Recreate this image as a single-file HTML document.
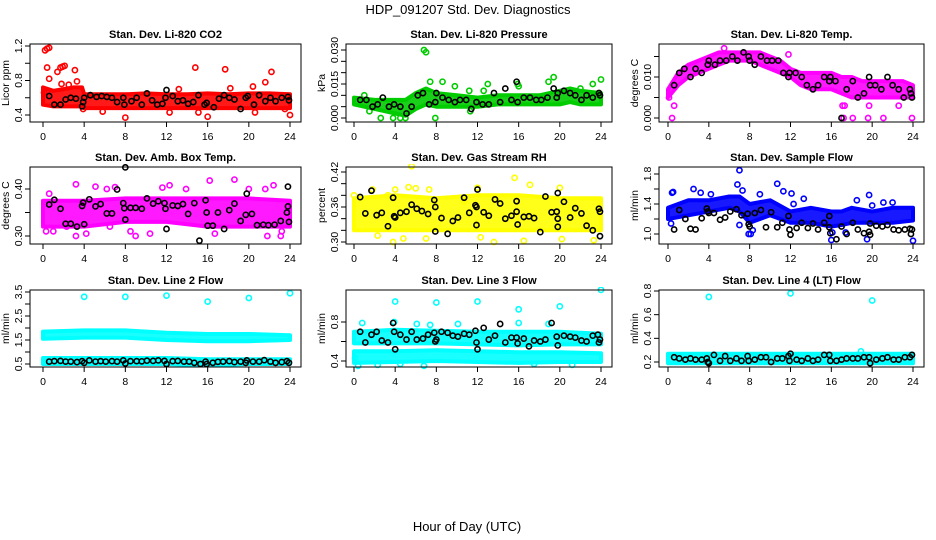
<!DOCTYPE html>
<html><head><meta charset="utf-8"><style>
html,body{margin:0;padding:0;background:#fff;}
svg{display:block;font-family:"Liberation Sans",sans-serif;}
</style></head><body>
<svg id="chart" width="936" height="540" viewBox="0 0 936 540" xmlns="http://www.w3.org/2000/svg">
<rect width="936" height="540" fill="#fff"/>
<text x="468" y="14" text-anchor="middle" font-size="13">HDP_091207  Std. Dev. Diagnostics</text>
<text x="467" y="531" text-anchor="middle" font-size="13">Hour of Day (UTC)</text>
<g id="panels"></g>
</svg>
<script>
// ---------- data ----------
const hourTicks = [0,4,8,12,16,20,24];

const co2BandX = [0,1,2,3,3.8,4,6,8,10,12,14,16,18,20,22,24];
const co2Lo = [0.52,0.5,0.5,0.5,0.5,0.48,0.48,0.48,0.48,0.48,0.48,0.48,0.48,0.48,0.48,0.48];
const co2Hi = [0.72,0.68,0.7,0.72,0.72,0.64,0.64,0.64,0.65,0.64,0.64,0.65,0.64,0.65,0.65,0.64];
const co2Pts = [[0.2,1.15],[0.4,1.17],[0.6,1.18],[0.4,0.95],[1.4,0.9],[1.7,0.95],[1.9,0.96],[2.1,0.97],[3.1,0.92],[0.6,0.82],[1.8,0.76],[3.3,0.79],[2.5,0.75],[8,0.37],[14.8,0.95],[17.7,0.93],[22.2,0.9],[21.6,0.78],[16,0.38],[12.3,0.43],[15.1,0.43],[20.6,0.43],[23.5,0.47],[24,0.4],[18.2,0.71],[20.4,0.73],[5.8,0.44],[13.2,0.7],[0.1,0.66],[3.9,0.47]];
const co2Blk = [[0.6,0.62],[1.1,0.52],[1.7,0.52],[2.2,0.58],[2.7,0.6],[3.2,0.59],[3.8,0.5],[3.9,0.55],[4,0.6],[4.6,0.63],[5.2,0.61],[5.7,0.62],[6.2,0.61],[6.7,0.6],[7.2,0.55],[7.8,0.6],[7.9,0.52],[8.6,0.56],[9.1,0.6],[9.6,0.52],[10.1,0.65],[10.6,0.57],[11.1,0.52],[11.6,0.53],[11.9,0.6],[12,0.69],[12.6,0.62],[13.1,0.56],[13.6,0.57],[14.1,0.53],[14.6,0.55],[15.1,0.63],[15.7,0.52],[15.9,0.54],[16.6,0.49],[17.1,0.59],[17.6,0.63],[18.1,0.6],[18.6,0.58],[19.2,0.47],[19.7,0.6],[19.9,0.62],[20.5,0.52],[21,0.63],[21.6,0.56],[22.1,0.6],[22.6,0.56],[23.2,0.6],[23.8,0.61],[23.9,0.57]];

const presBandX = [0,2,4,5,6,7,8,10,12,14,16,18,20,21,22,24];
const presLo = [0.006,0.004,0.002,0.001,0.004,0.006,0.005,0.005,0.005,0.006,0.006,0.006,0.006,0.007,0.006,0.006];
const presHi = [0.009,0.008,0.008,0.008,0.011,0.013,0.011,0.01,0.009,0.01,0.01,0.01,0.012,0.013,0.012,0.011];
const presPts = [[6.8,0.03],[7,0.029],[8.6,0.016],[7.4,0.016],[9.8,0.014],[13,0.015],[15.9,0.015],[19.4,0.018],[18.9,0.016],[23.2,0.015],[24,0.017],[2.6,0],[7.9,0],[5,0],[11.3,0.003],[1.5,0.003],[3.8,0],[11.2,0.012],[12.6,0.012],[1,0.01],[4.5,0],[22,0.013],[16,0.014]];
const presBlk = [[0.6,0.008],[1.2,0.008],[1.8,0.005],[2.3,0.006],[2.8,0.009],[3.4,0.005],[3.9,0.006],[4.5,0.005],[5.1,0.002],[5.6,0.005],[6.2,0.01],[6.7,0.011],[7.3,0.006],[7.9,0.007],[8,0.011],[8.6,0.009],[9.2,0.008],[9.8,0.007],[10.3,0.008],[10.9,0.008],[11.4,0.004],[11.9,0.007],[12.5,0.006],[13.1,0.006],[13.6,0.011],[14.2,0.007],[14.7,0.013],[15.3,0.008],[15.8,0.016],[15.9,0.007],[16.5,0.009],[17.1,0.009],[17.7,0.008],[18.2,0.008],[18.8,0.009],[19.4,0.013],[19.7,0.009],[19.8,0.011],[20.4,0.012],[21,0.011],[21.5,0.01],[22.1,0.008],[22.6,0.01],[23.2,0.009],[23.8,0.011],[23.9,0.01]];

const tempBandX = [0,1,2,3,4,5,6,7,8,9,10,11,12,13,14,15,16,17,18,19,20,21,22,23,24];
const tempLo = [0.005,0.008,0.01,0.011,0.012,0.013,0.014,0.014,0.014,0.013,0.012,0.011,0.01,0.008,0.007,0.007,0.007,0.006,0.005,0.005,0.005,0.005,0.005,0.005,0.005];
const tempHi = [0.007,0.011,0.013,0.014,0.015,0.016,0.016,0.016,0.016,0.016,0.015,0.014,0.012,0.011,0.011,0.011,0.011,0.01,0.01,0.009,0.009,0.009,0.009,0.009,0.008];
const tempPts = [[0.4,0],[0.6,0.003],[5.5,0.017],[11.8,0.0155],[17.1,0.003],[17.3,0.003],[18.1,0],[19.6,0],[21.1,0],[23.9,0],[17.2,0],[22.6,0.003],[19.7,0.003],[0.1,0.005]];
const tempBlk = [[0.6,0.008],[1.1,0.011],[1.6,0.012],[2.2,0.01],[2.7,0.012],[3.3,0.011],[3.9,0.013],[4,0.014],[4.6,0.013],[5.1,0.014],[5.7,0.014],[6.3,0.015],[6.8,0.014],[7.4,0.016],[7.9,0.015],[8,0.014],[8.5,0.013],[9.1,0.015],[9.7,0.014],[10.2,0.014],[10.8,0.014],[11.3,0.011],[11.8,0.01],[11.9,0.011],[12.5,0.011],[13.1,0.01],[13.6,0.008],[14.2,0.007],[14.7,0.008],[15.3,0.01],[15.8,0.009],[15.9,0.01],[16.4,0.009],[17,0],[17.5,0.007],[18.1,0.009],[18.6,0.005],[19.2,0.006],[19.7,0.01],[19.8,0.008],[20.3,0.008],[20.9,0.007],[21.5,0.01],[22,0.008],[22.6,0.007],[23.1,0.005],[23.7,0.007],[23.8,0.006],[23.9,0.005]];

const ambBandX = [0,4,8,12,16,20,24];
const ambLo = [0.32,0.32,0.33,0.33,0.32,0.32,0.32];
const ambHi = [0.375,0.375,0.38,0.38,0.38,0.38,0.375];
const ambPts = [[0.6,0.39],[3.2,0.41],[5.1,0.405],[6.2,0.4],[7,0.404],[11.6,0.403],[12.3,0.408],[13.9,0.4],[16.2,0.418],[18.6,0.42],[20,0.4],[21.6,0.4],[22.4,0.408],[0.3,0.31],[1,0.31],[3.2,0.3],[4.2,0.305],[9,0.3],[10.4,0.305],[8.5,0.31],[16.7,0.305],[21.8,0.3],[23.1,0.3],[23.2,0.31],[2.3,0.32],[6.5,0.32]];
const ambBlk = [[0.6,0.367],[1.1,0.377],[1.7,0.358],[2.2,0.326],[2.7,0.326],[3.3,0.32],[3.8,0.364],[3.9,0.371],[4,0.325],[4.5,0.378],[5.1,0.363],[5.6,0.368],[6.2,0.348],[6.7,0.348],[7.2,0.399],[7.8,0.37],[7.9,0.359],[8,0.335],[8,0.446],[8.5,0.36],[9,0.36],[9.6,0.358],[10.1,0.38],[10.7,0.369],[11.2,0.374],[11.8,0.37],[11.9,0.358],[12,0.315],[12.6,0.365],[13.1,0.364],[13.6,0.368],[14.1,0.347],[14.7,0.37],[15.2,0.29],[15.8,0.376],[15.9,0.35],[16,0.322],[16.5,0.322],[17,0.35],[17.6,0.315],[18.1,0.355],[18.6,0.369],[19.2,0.332],[19.7,0.345],[19.8,0.39],[20.3,0.347],[20.8,0.323],[21.4,0.324],[21.9,0.323],[22.5,0.324],[23.1,0.332],[23.7,0.35],[23.8,0.405],[23.9,0.33],[23.8,0.363]];

const rhBandX = [0,4,8,12,16,20,24];
const rhLo = [0.32,0.32,0.32,0.32,0.32,0.32,0.32];
const rhHi = [0.375,0.38,0.375,0.38,0.38,0.375,0.375];
const rhPts = [[5.6,0.43],[5.3,0.394],[6,0.392],[15.6,0.41],[17.1,0.398],[20,0.393],[12,0.393],[4,0.39],[3.8,0.3],[13.6,0.3],[16.5,0.302],[23.3,0.303],[7,0.306],[12.3,0.308],[2.3,0.311],[4.8,0.306],[20.2,0.305],[1.8,0.39],[7.3,0.39],[0,0.38],[3.3,0.38],[21.3,0.35],[10.7,0.37]];
const rhBlk = [[0.6,0.377],[1.1,0.349],[1.7,0.388],[2.2,0.346],[2.7,0.35],[3.3,0.327],[3.8,0.376],[3.9,0.344],[4,0.342],[4.5,0.35],[5.1,0.352],[5.6,0.364],[6.1,0.357],[6.6,0.353],[7.2,0.348],[7.8,0.372],[7.9,0.36],[7.9,0.318],[8.5,0.341],[9.1,0.314],[9.6,0.336],[10.1,0.342],[10.7,0.376],[11.2,0.35],[11.8,0.363],[11.9,0.36],[12,0.39],[11.9,0.329],[12.6,0.351],[13.1,0.345],[13.7,0.373],[14.2,0.366],[14.7,0.34],[15.3,0.345],[15.8,0.37],[15.8,0.352],[15.9,0.33],[16.5,0.343],[17,0.344],[17.5,0.341],[18.1,0.317],[18.6,0.378],[19.2,0.351],[19.7,0.352],[19.8,0.34],[19.8,0.326],[19.8,0.384],[20.4,0.369],[21,0.342],[21.5,0.358],[22.1,0.349],[22.6,0.328],[23.2,0.32],[23.8,0.357],[23.9,0.352],[23.9,0.31]];

const sfBandX = [0,2,4,6,7,8,10,12,14,16,17,18,20,22,24];
const sfLo = [1.2,1.25,1.3,1.35,1.3,1.15,1.25,1.15,1.15,1.1,1.12,1.15,1.15,1.15,1.18];
const sfHi = [1.35,1.45,1.45,1.5,1.5,1.4,1.45,1.3,1.35,1.3,1.3,1.35,1.3,1.35,1.35];
const sfPts = [[0.4,1.55],[0.5,1.56],[2.5,1.6],[3.2,1.55],[4.2,1.53],[6.8,1.66],[7,1.85],[7.3,1.58],[9,1.53],[10.7,1.67],[11.3,1.57],[12.1,1.54],[13.3,1.47],[19.7,1.52],[18.5,1.45],[16,0.92],[19.5,0.93],[24,0.91],[7.9,1],[8.1,1],[8.3,1.05],[17.4,1.02],[16.1,1.02],[7,1.12],[0.3,1.14],[12.3,1.4],[20,1.38],[21.1,1.42],[22,1.42]];
const sfBlk = [[0.6,1.06],[1.1,1.32],[1.7,1.2],[2.2,1.07],[2.7,1.06],[3.3,1.21],[3.8,1.34],[3.9,1.3],[4,1.28],[4.5,1.28],[5.1,1.19],[5.6,1.22],[6.1,1.3],[6.7,1.33],[7.2,1.25],[7.8,1.27],[7.9,1.13],[8,1.1],[8.5,1.28],[9.1,1.32],[9.6,1.09],[10.1,1.29],[10.7,1.09],[11.2,1.15],[11.8,1.24],[11.9,1.06],[12,0.99],[12.6,1.08],[13.1,1.15],[13.7,1.08],[14.2,1.14],[14.7,1.06],[15.3,1.15],[15.8,1.24],[15.8,1.09],[15.9,1.01],[16.5,0.93],[17,1.1],[17.5,1],[18.1,1.15],[18.6,1.06],[19.2,1.01],[19.7,1.03],[19.8,1.14],[19.8,0.99],[20.4,1.11],[21,1.1],[21.5,1.12],[22.1,1.06],[22.6,1.05],[23.2,1.06],[23.7,1.07],[23.8,1],[23.9,1.06]];

const l2BandX = [0,4,8,12,16,20,24];
const l2UpLo = [1.55,1.6,1.6,1.5,1.45,1.45,1.5];
const l2UpHi = [1.85,1.9,1.9,1.8,1.75,1.75,1.7];
const l2DnLo = [0.5,0.5,0.5,0.5,0.45,0.5,0.5];
const l2DnHi = [0.75,0.75,0.75,0.75,0.7,0.7,0.7];
const l2Pts = [[4,3.3],[8,3.3],[12,3.35],[16,3.1],[20,3.25],[24,3.45]];
const l2Blk = [[0.6,0.6],[1.1,0.62],[1.7,0.63],[2.2,0.6],[2.7,0.6],[3.3,0.58],[3.8,0.62],[4,0.55],[4.5,0.65],[5.1,0.6],[5.6,0.62],[6.1,0.6],[6.7,0.62],[7.2,0.6],[7.8,0.65],[8,0.52],[8.5,0.62],[9.1,0.62],[9.6,0.61],[10.1,0.64],[10.7,0.63],[11.2,0.65],[11.8,0.63],[12,0.5],[12.6,0.62],[13.1,0.63],[13.7,0.6],[14.2,0.6],[14.7,0.55],[15.3,0.5],[15.8,0.6],[15.9,0.5],[16.5,0.55],[17,0.59],[17.5,0.6],[18.1,0.62],[18.6,0.58],[19.2,0.6],[19.7,0.55],[19.8,0.65],[20.4,0.6],[21,0.6],[21.5,0.66],[22.1,0.6],[22.6,0.55],[23.2,0.58],[23.7,0.62],[23.9,0.55]];

const l3BandX = [0,4,8,12,16,20,24];
const l3UpLo = [0.58,0.58,0.58,0.57,0.56,0.57,0.57];
const l3UpHi = [0.7,0.72,0.71,0.7,0.7,0.7,0.68];
const l3DnLo = [0.38,0.39,0.4,0.39,0.38,0.39,0.39];
const l3DnHi = [0.5,0.5,0.51,0.5,0.49,0.49,0.48];
const l3Pts = [[4,1.01],[8,1],[12,1.01],[16,0.93],[20,0.96],[24,1.13],[0.8,0.79],[6.1,0.78],[7.4,0.77],[10.1,0.78],[16,0.79],[18.9,0.78],[3.9,0.8],[0.4,0.35],[2.3,0.36],[4.5,0.37],[6.8,0.35],[17.5,0.37],[21.2,0.36],[0.1,0.43]];
const l3Blk = [[0.6,0.7],[1.1,0.59],[1.7,0.67],[2.2,0.7],[2.7,0.61],[3.3,0.59],[3.8,0.79],[3.9,0.7],[4,0.52],[4.5,0.67],[5.1,0.62],[5.6,0.7],[6.1,0.62],[6.7,0.63],[7.2,0.67],[7.8,0.69],[7.9,0.6],[8,0.62],[8.5,0.7],[9.1,0.69],[9.6,0.66],[10.1,0.65],[10.7,0.68],[11.2,0.67],[11.8,0.71],[11.9,0.59],[12,0.52],[12.6,0.74],[13.1,0.62],[13.7,0.66],[14.2,0.78],[14.7,0.59],[15.3,0.64],[15.8,0.64],[15.9,0.58],[16.5,0.63],[17,0.55],[17.5,0.61],[18.1,0.6],[18.6,0.62],[19.2,0.79],[19.7,0.65],[19.8,0.56],[20.4,0.66],[21,0.65],[21.5,0.64],[22.1,0.61],[22.6,0.6],[23.2,0.66],[23.7,0.67],[23.9,0.62],[23.8,0.59]];

const l4BandX = [0,4,8,12,16,20,24];
const l4Lo = [0.19,0.19,0.19,0.19,0.19,0.19,0.19];
const l4Hi = [0.27,0.27,0.27,0.27,0.27,0.27,0.27];
const l4Pts = [[4,0.75],[12,0.78],[20,0.72],[18.9,0.29]];
const l4Blk = [[0.6,0.24],[1.1,0.23],[1.7,0.22],[2.2,0.23],[2.7,0.22],[3.3,0.22],[3.8,0.23],[3.9,0.2],[4,0.19],[4.5,0.26],[5.1,0.21],[5.6,0.25],[6.1,0.21],[6.7,0.23],[7.2,0.21],[7.8,0.25],[7.9,0.21],[8.5,0.22],[9.1,0.24],[9.6,0.24],[10.1,0.2],[10.7,0.23],[11.2,0.23],[11.8,0.25],[12,0.27],[11.9,0.21],[12.6,0.22],[13.1,0.21],[13.7,0.23],[14.2,0.21],[14.7,0.22],[15.3,0.26],[15.8,0.26],[15.9,0.21],[16.5,0.21],[17,0.22],[17.5,0.23],[18.1,0.23],[18.6,0.23],[19.2,0.24],[19.7,0.24],[19.8,0.19],[20.4,0.22],[21,0.23],[21.5,0.24],[22.1,0.22],[22.6,0.22],[23.2,0.24],[23.7,0.24],[23.9,0.26]];

// ---------- layout ----------
const NS = "http://www.w3.org/2000/svg";
const root = document.getElementById('panels');
function mk(tag, attrs, parent){ const e=document.createElementNS(NS,tag); for(const k in attrs) e.setAttribute(k,attrs[k]); parent.appendChild(e); return e; }

const panels = [
 {key:'co2',title:'Stan. Dev. Li-820 CO2',yl:'Licor ppm',color:'#ff0000',box:[30,301,44,122],xp:[43,290],yv:[0.4,1.2],yp:[115,46],ticks:[0.4,0.6,0.8,1.0,1.2],labels:['0.4',null,'0.8',null,'1.2'],
  bandX:co2BandX,bands:[[co2Lo,co2Hi]],pts:co2Pts,blk:co2Blk},
 {key:'pressure',title:'Stan. Dev. Li-820 Pressure',yl:'kPa',color:'#00cc00',box:[346,612,44,122],xp:[354,601],yv:[0,0.03],yp:[118,50],ticks:[0,0.005,0.01,0.015,0.02,0.025,0.03],labels:['0.000',null,null,'0.015',null,null,'0.030'],
  bandX:presBandX,bands:[[presLo,presHi]],pts:presPts,blk:presBlk},
 {key:'li820-temp',title:'Stan. Dev. Li-820 Temp.',yl:'degrees C',color:'#ff00ff',box:[659,924,44,122],xp:[668,913],yv:[0,0.01],yp:[118,77],ticks:[0,0.005,0.01,0.015],labels:['0.000',null,'0.010',null],
  bandX:tempBandX,bands:[[tempLo,tempHi]],pts:tempPts,blk:tempBlk},
 {key:'amb-temp',title:'Stan. Dev. Amb. Box Temp.',yl:'degrees C',color:'#ff00ff',box:[30,301,167,244],xp:[43,290],yv:[0.3,0.4],yp:[236,189],ticks:[0.3,0.35,0.4],labels:['0.30',null,'0.40'],
  bandX:ambBandX,bands:[[ambLo,ambHi]],pts:ambPts,blk:ambBlk},
 {key:'gas-rh',title:'Stan. Dev. Gas Stream RH',yl:'percent',color:'#ffff00',box:[346,612,167,244],xp:[354,601],yv:[0.3,0.42],yp:[242,172],ticks:[0.3,0.32,0.34,0.36,0.38,0.4,0.42],labels:['0.30',null,null,'0.36',null,null,'0.42'],
  bandX:rhBandX,bands:[[rhLo,rhHi]],pts:rhPts,blk:rhBlk},
 {key:'sample-flow',title:'Stan. Dev. Sample Flow',yl:'ml/min',color:'#0000ff',box:[659,924,167,244],xp:[668,913],yv:[1.0,1.8],yp:[234,174],ticks:[1.0,1.2,1.4,1.6,1.8],labels:['1.0',null,'1.4',null,'1.8'],
  bandX:sfBandX,bands:[[sfLo,sfHi]],pts:sfPts,blk:sfBlk},
 {key:'line2-flow',title:'Stan. Dev. Line 2 Flow',yl:'ml/min',color:'#00ffff',box:[30,301,290,367],xp:[43,290],yv:[0.5,3.5],yp:[364,292],ticks:[0.5,1,1.5,2,2.5,3,3.5],labels:['0.5',null,'1.5',null,'2.5',null,'3.5'],
  bandX:l2BandX,bands:[[l2UpLo,l2UpHi],[l2DnLo,l2DnHi]],pts:l2Pts,blk:l2Blk},
 {key:'line3-flow',title:'Stan. Dev. Line 3 Flow',yl:'ml/min',color:'#00ffff',box:[346,612,290,367],xp:[354,601],yv:[0.4,0.8],yp:[361,322],ticks:[0.4,0.6,0.8],labels:['0.4',null,'0.8'],
  bandX:l3BandX,bands:[[l3UpLo,l3UpHi],[l3DnLo,l3DnHi]],pts:l3Pts,blk:l3Blk},
 {key:'line4-flow',title:'Stan. Dev. Line 4 (LT) Flow',yl:'ml/min',color:'#00ffff',box:[659,924,290,367],xp:[668,913],yv:[0.2,0.8],yp:[362,291],ticks:[0.2,0.4,0.6,0.8],labels:['0.2','0.4','0.6','0.8'],
  bandX:l4BandX,bands:[[l4Lo,l4Hi]],pts:l4Pts,blk:l4Blk}
];

panels.forEach(p=>{
  const [x0,x1,y0,y1]=p.box;
  const sx = h => p.xp[0] + (h-0)/(24-0)*(p.xp[1]-p.xp[0]);
  const sy = v => p.yp[0] + (v-p.yv[0])/(p.yv[1]-p.yv[0])*(p.yp[1]-p.yp[0]);
  const g = mk('g',{},root);
  
  

  const t = mk('text',{x:(x0+x1)/2,y:y0-6,'text-anchor':'middle','font-size':11,'font-weight':'bold'},g);
  t.textContent=p.title;
  
  

  const yl = mk('text',{transform:`translate(${x0-21},${(y0+y1)/2}) rotate(-90)`,'text-anchor':'middle','font-size':10.5},g);
  yl.textContent=p.yl;
  
  

  const clip = mk('clipPath',{id:'clip-'+p.key},g);
  mk('rect',{x:x0-3,y:y0-3,width:x1-x0+6,height:y1-y0+6},clip);
  const plot = mk('g',{'clip-path':`url(#clip-${p.key})`},g);

  p.bands.forEach((b,bi)=>{
    let d='';
    p.bandX.forEach((h,i)=>{ d+=(i?'L':'M')+sx(h).toFixed(1)+','+sy(b[1][i]).toFixed(1); });
    for(let i=p.bandX.length-1;i>=0;i--) d+='L'+sx(p.bandX[i]).toFixed(1)+','+sy(b[0][i]).toFixed(1);
    const band = mk('path',{d:d+'Z',fill:p.color,'fill-opacity':0.9,stroke:p.color,'stroke-width':4,'stroke-linejoin':'round'},plot);
    
    
  });
  p.pts.forEach(pt=>{
    const c = mk('circle',{cx:sx(pt[0]),cy:sy(pt[1]),r:2.6,fill:'none',stroke:p.color,'stroke-width':1.6},plot);
    
    
  });
  p.blk.forEach(pt=>{
    const c = mk('circle',{cx:sx(pt[0]),cy:sy(pt[1]),r:2.6,fill:'none',stroke:'#000','stroke-width':1.6},plot);
    
    
  });

  const box = mk('rect',{x:x0,y:y0,width:x1-x0,height:y1-y0,fill:'none',stroke:'#000','stroke-width':1},g);
  
  

  hourTicks.forEach(h=>{
    mk('line',{x1:sx(h),x2:sx(h),y1:y1,y2:y1+5,stroke:'#000'},g);
    const tl = mk('text',{x:sx(h),y:y1+18,'text-anchor':'middle','font-size':10.5},g);
    tl.textContent=h;
    
    
  });
  p.ticks.forEach((v,i)=>{
    const y=sy(v);
    mk('line',{x1:x0-5,x2:x0,y1:y,y2:y,stroke:'#000'},g);
    if(p.labels[i]){
      const tl = mk('text',{transform:`translate(${x0-8},${y}) rotate(-90)`,'text-anchor':'middle','font-size':10.5},g);
      tl.textContent=p.labels[i];
      
      
    }
  });
});
</script>
</body></html>
